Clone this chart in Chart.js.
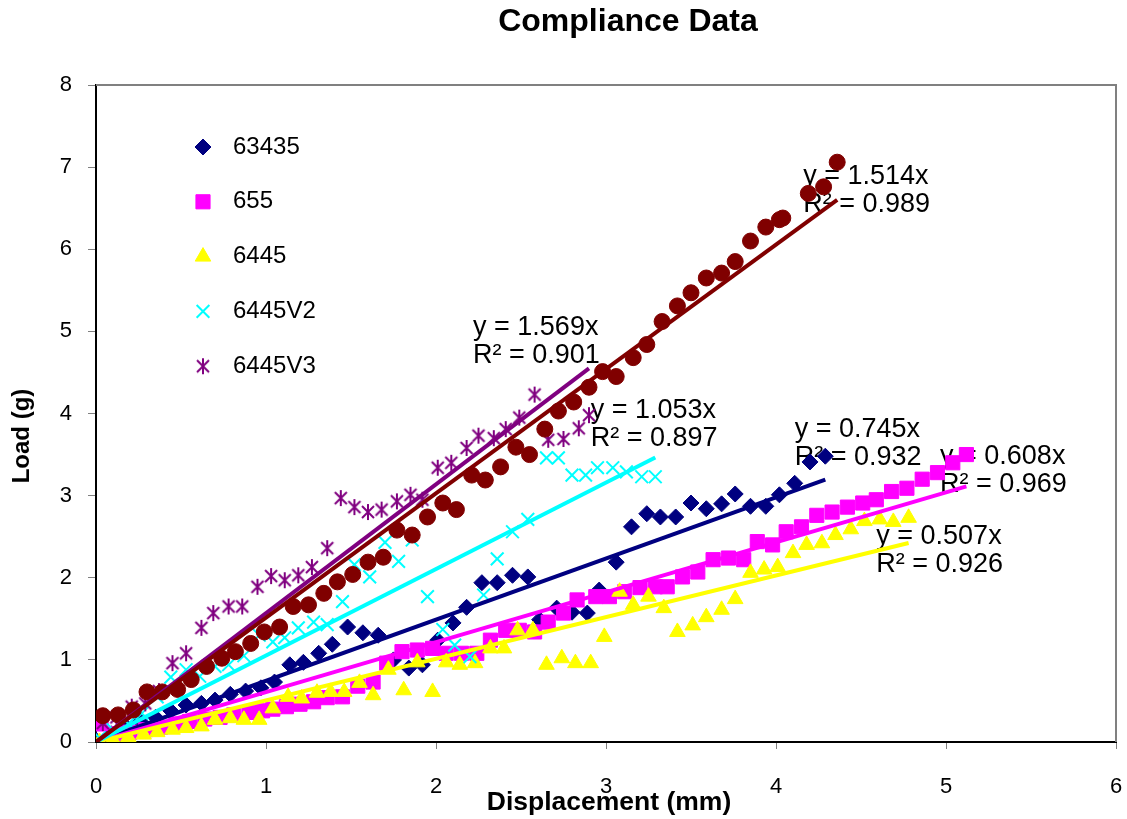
<!DOCTYPE html>
<html>
<head>
<meta charset="utf-8">
<script src="https://cdn.jsdelivr.net/npm/chart.js@4.4.0/dist/chart.umd.min.js"></script>
<style>
  html, body { margin: 0; padding: 0; background: #fff; }
</style>
</head>
<body>
<canvas id="compliance" width="1127" height="819"></canvas>
<script>
// Displacement (mm) / load (g) per sample
const x63435 = [0.00,0.09,0.18,0.26,0.35,0.44,0.53,0.62,0.70,0.79,0.88,0.97,1.05,1.14,1.22,1.31,1.39,1.48,1.57,1.66,1.75,1.84,1.92,2.01,2.10,2.18,2.27,2.36,2.45,2.54,2.61,2.71,2.80,2.89,2.96,3.06,3.15,3.24,3.32,3.41,3.50,3.59,3.68,3.76,3.85,3.94,4.02,4.11,4.20,4.29];
const y63435 = [0.02,0.10,0.18,0.25,0.30,0.38,0.45,0.47,0.51,0.58,0.62,0.66,0.73,0.94,0.97,1.08,1.19,1.40,1.33,1.30,1.00,0.90,0.94,1.24,1.45,1.64,1.94,1.94,2.03,2.01,1.49,1.63,1.58,1.57,1.85,2.19,2.62,2.78,2.74,2.74,2.91,2.84,2.90,3.02,2.87,2.87,3.01,3.15,3.41,3.48];

const x655 = [0.03,0.12,0.20,0.29,0.38,0.47,0.55,0.64,0.73,0.81,0.90,0.98,1.04,1.12,1.20,1.28,1.36,1.45,1.54,1.63,1.71,1.80,1.89,1.98,2.06,2.15,2.24,2.32,2.41,2.49,2.58,2.66,2.75,2.83,2.94,3.02,3.11,3.20,3.29,3.36,3.45,3.54,3.63,3.72,3.81,3.89,3.98,4.06,4.15,4.24,4.33,4.42,4.51,4.59,4.68,4.77,4.86,4.95,5.04,5.12];
const y655 = [0.22,0.10,0.12,0.15,0.18,0.22,0.25,0.28,0.30,0.33,0.36,0.38,0.40,0.43,0.46,0.49,0.54,0.55,0.68,0.73,0.96,1.10,1.12,1.14,1.08,1.08,1.08,1.24,1.36,1.36,1.34,1.46,1.57,1.73,1.77,1.77,1.83,1.88,1.89,1.89,2.01,2.07,2.22,2.24,2.22,2.44,2.40,2.56,2.62,2.76,2.80,2.86,2.91,2.95,3.05,3.09,3.20,3.28,3.40,3.50];

const x6445 = [0.02,0.10,0.19,0.28,0.36,0.45,0.53,0.62,0.70,0.79,0.87,0.96,1.04,1.13,1.21,1.30,1.38,1.46,1.55,1.63,1.72,1.81,1.89,1.98,2.06,2.14,2.23,2.32,2.40,2.48,2.57,2.65,2.74,2.82,2.91,2.99,3.08,3.16,3.25,3.34,3.42,3.51,3.59,3.68,3.76,3.85,3.93,4.01,4.10,4.18,4.27,4.35,4.44,4.52,4.61,4.69,4.78];
const y6445 = [0.00,0.03,0.06,0.09,0.12,0.15,0.17,0.19,0.27,0.29,0.27,0.27,0.41,0.55,0.53,0.60,0.61,0.61,0.72,0.57,0.88,0.63,0.97,0.61,0.97,0.94,0.96,1.14,1.14,1.36,1.36,0.94,1.02,0.96,0.96,1.28,1.83,1.67,1.77,1.63,1.34,1.42,1.52,1.61,1.74,2.06,2.10,2.13,2.30,2.40,2.42,2.52,2.59,2.69,2.71,2.68,2.73];

const x6445V2 = [0.02,0.10,0.19,0.27,0.36,0.44,0.53,0.61,0.70,0.78,0.87,0.96,1.04,1.11,1.19,1.28,1.36,1.45,1.52,1.61,1.70,1.78,1.86,1.95,2.04,2.11,2.20,2.28,2.36,2.45,2.54,2.65,2.72,2.80,2.88,2.95,3.04,3.12,3.21,3.29];
const y6445V2 = [0.05,0.15,0.22,0.35,0.55,0.79,0.88,0.80,0.92,0.94,1.05,1.30,1.22,1.27,1.39,1.46,1.43,1.71,2.16,2.01,2.43,2.20,2.46,1.77,1.37,1.18,1.04,1.79,2.23,2.56,2.71,3.46,3.46,3.25,3.25,3.34,3.34,3.29,3.23,3.23];

const x6445V3 = [0.04,0.12,0.21,0.29,0.37,0.45,0.53,0.62,0.69,0.78,0.86,0.95,1.03,1.11,1.19,1.27,1.36,1.44,1.52,1.60,1.68,1.77,1.85,1.92,2.01,2.09,2.18,2.25,2.34,2.41,2.49,2.58,2.66,2.75,2.84,2.90];
const y6445V3 = [0.23,0.30,0.43,0.47,0.62,0.96,1.08,1.39,1.57,1.65,1.65,1.89,2.02,1.97,2.03,2.13,2.36,2.97,2.86,2.80,2.83,2.93,3.01,2.95,3.34,3.40,3.58,3.73,3.70,3.81,3.95,4.23,3.68,3.69,3.82,3.98];

// sixth series, not listed in the legend
const xSeries6 = [0.04,0.13,0.22,0.30,0.39,0.48,0.56,0.65,0.74,0.82,0.91,0.99,1.08,1.16,1.25,1.34,1.42,1.51,1.60,1.69,1.77,1.86,1.95,2.04,2.12,2.21,2.29,2.38,2.47,2.55,2.64,2.72,2.81,2.90,2.98,3.06,3.16,3.24,3.33,3.42,3.50,3.59,3.68,3.76,3.85,3.94,4.02,4.04,4.19,4.28,4.36];
const ySeries6 = [0.32,0.33,0.39,0.61,0.61,0.64,0.76,0.92,1.02,1.10,1.20,1.34,1.40,1.65,1.67,1.81,1.95,2.04,2.19,2.25,2.58,2.52,2.74,2.91,2.83,3.25,3.19,3.35,3.59,3.50,3.81,4.03,4.14,4.32,4.51,4.45,4.68,4.84,5.12,5.31,5.47,5.65,5.71,5.85,6.10,6.27,6.36,6.38,6.68,6.76,7.06];

// trendline (through origin) results printed on the chart
const seriesNames = ['63435', '655', '6445', '6445V2', '6445V3', 'Series6'];
const slopes = [0.745, 0.608, 0.507, 1.053, 1.569, 1.514];
const rSquared = [0.932, 0.969, 0.926, 0.897, 0.901, 0.989];
const xTicks = [0, 1, 2, 3, 4, 5, 6];
const yTicks = [0, 1, 2, 3, 4, 5, 6, 7, 8];

const FONT = '"Liberation Sans", Arial, Helvetica, sans-serif';

function starMarker(color) {
  const c = document.createElement('canvas');
  c.width = 18; c.height = 18;
  const g = c.getContext('2d');
  g.strokeStyle = color;
  g.lineWidth = 2;
  g.beginPath();
  g.moveTo(9, 1); g.lineTo(9, 17);
  g.moveTo(3, 3); g.lineTo(15, 15);
  g.moveTo(15, 3); g.lineTo(3, 15);
  g.stroke();
  return c;
}

const xs = [x63435, x655, x6445, x6445V2, x6445V3, xSeries6];
const ys = [y63435, y655, y6445, y6445V2, y6445V3, ySeries6];
const colors = ['#000080', '#FF00FF', '#FFFF00', '#00FFFF', '#800080', '#800000'];
const markers = [
  { pointStyle: 'rectRot', radius: 8, borderWidth: 1 },
  { pointStyle: 'rect', radius: 10, borderWidth: 1 },
  { pointStyle: 'triangle', radius: 9, borderWidth: 1 },
  { pointStyle: 'crossRot', radius: 9, borderWidth: 2 },
  { pointStyle: starMarker('#800080'), radius: 9, borderWidth: 2 },
  { pointStyle: 'circle', radius: 8, borderWidth: 1 }
];

// where each equation label sits (data units, top line)
const labelPos = [
  { x: 4.11, y: 3.81 },
  { x: 4.965, y: 3.47 },
  { x: 4.59, y: 2.50 },
  { x: 2.91, y: 4.04 },
  { x: 2.218, y: 5.05 },
  { x: 4.16, y: 6.88 }
];

const datasets = [];
xs.forEach((xArr, i) => {
  datasets.push({
    label: seriesNames[i],
    data: xArr.map((x, j) => ({ x, y: ys[i][j] })),
    showLine: false,
    pointStyle: markers[i].pointStyle,
    pointRadius: markers[i].radius,
    pointHoverRadius: markers[i].radius,
    pointBorderWidth: markers[i].borderWidth,
    backgroundColor: colors[i],
    borderColor: colors[i],
    order: 12 - i
  });
});
xs.forEach((xArr, i) => {
  const xEnd = Math.max(...xArr);
  datasets.push({
    label: 'Linear (' + seriesNames[i] + ')',
    data: [{ x: 0, y: 0 }, { x: xEnd, y: slopes[i] * xEnd }],
    showLine: true,
    pointRadius: 0,
    borderColor: colors[i],
    borderWidth: 4,
    order: 6 - i
  });
});

const legendPlugin = {
  id: 'sideLegend',
  afterDatasetsDraw(chart) {
    const ctx = chart.ctx;
    const drawPoint = Chart.helpers && Chart.helpers.drawPoint;
    ctx.save();
    for (let i = 0; i < 5; i++) {
      const y = 147 + i * 54.8;
      ctx.fillStyle = colors[i];
      ctx.strokeStyle = colors[i];
      ctx.lineWidth = markers[i].borderWidth;
      if (drawPoint) {
        drawPoint(ctx, {
          pointStyle: markers[i].pointStyle,
          radius: markers[i].radius,
          rotation: 0,
          borderWidth: markers[i].borderWidth
        }, 203, y);
      }
      ctx.fillStyle = '#000';
      ctx.font = '24px ' + FONT;
      ctx.textBaseline = 'middle';
      ctx.textAlign = 'left';
      ctx.fillText(seriesNames[i], 233, y);
    }
    ctx.restore();
  }
};

const textPlugin = {
  id: 'chartText',
  beforeDatasetsDraw(chart) {
    const ctx = chart.ctx;
    const xs_ = chart.scales.x, ys_ = chart.scales.y;
    const area = chart.chartArea;
    ctx.save();
    // plot area frame (top & right, grey)
    ctx.strokeStyle = '#808080';
    ctx.lineWidth = 2;
    ctx.beginPath();
    ctx.moveTo(area.left, area.top);
    ctx.lineTo(area.right, area.top);
    ctx.lineTo(area.right, area.bottom);
    ctx.stroke();
    // trendline equations
    ctx.fillStyle = '#000';
    ctx.font = '27px ' + FONT;
    ctx.textBaseline = 'middle';
    ctx.textAlign = 'left';
    labelPos.forEach((p, i) => {
      const px = xs_.getPixelForValue(p.x);
      const py = ys_.getPixelForValue(p.y);
      ctx.fillText('y = ' + slopes[i].toFixed(3) + 'x', px, py);
      ctx.fillText('R\u00B2 = ' + rSquared[i].toFixed(3), px, py + 28);
    });
    ctx.restore();
  },
  afterDraw(chart) {
    const ctx = chart.ctx;
    ctx.save();
    ctx.fillStyle = '#000';
    ctx.textBaseline = 'middle';
    ctx.textAlign = 'center';
    ctx.font = 'bold 32px ' + FONT;
    ctx.fillText('Compliance Data', 628, 22);
    ctx.font = 'bold 26.5px ' + FONT;
    ctx.fillText('Displacement (mm)', 609, 803);
    ctx.translate(22, 436);
    ctx.rotate(-Math.PI / 2);
    ctx.font = 'bold 24px ' + FONT;
    ctx.fillText('Load (g)', 0, 0);
    ctx.restore();
  }
};

new Chart(document.getElementById('compliance'), {
  type: 'scatter',
  data: { datasets },
  options: {
    responsive: false,
    animation: false,
    devicePixelRatio: 1,
    layout: { padding: { top: 85, right: 11, left: 0, bottom: 0 } },
    scales: {
      x: {
        type: 'linear',
        min: xTicks[0],
        max: xTicks[xTicks.length - 1],
        afterBuildTicks: s => { s.ticks = xTicks.map(v => ({ value: v })); },
        afterFit: s => { s.height = 77; s.paddingLeft = 0; s.paddingRight = 0; },
        ticks: { color: '#000', font: { size: 22, family: FONT }, padding: 25, maxRotation: 0 },
        grid: { display: true, drawOnChartArea: false, drawTicks: true, tickLength: 7, color: '#808080' },
        border: { display: true, color: '#000', width: 2 }
      },
      y: {
        type: 'linear',
        min: yTicks[0],
        max: yTicks[yTicks.length - 1],
        afterBuildTicks: s => { s.ticks = yTicks.map(v => ({ value: v })); },
        afterFit: s => { s.width = 96; s.paddingTop = 0; s.paddingBottom = 0; },
        ticks: { color: '#000', font: { size: 22, family: FONT }, padding: 16 },
        grid: { display: true, drawOnChartArea: false, drawTicks: true, tickLength: 8, color: '#808080' },
        border: { display: true, color: '#000', width: 2 }
      }
    },
    plugins: {
      legend: { display: false },
      title: { display: false },
      tooltip: { enabled: false }
    }
  },
  plugins: [textPlugin, legendPlugin]
});
</script>
</body>
</html>
